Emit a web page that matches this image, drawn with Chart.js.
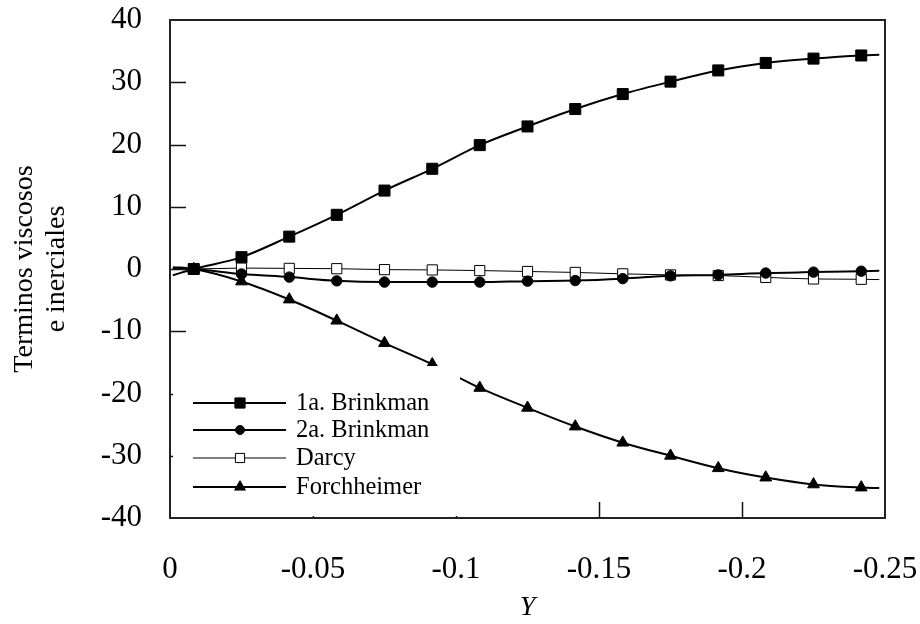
<!DOCTYPE html>
<html>
<head>
<meta charset="utf-8">
<script src="https://cdn.jsdelivr.net/npm/chart.js@4/dist/chart.umd.min.js"></script>
<style>
  html, body { margin: 0; padding: 0; background: #fff; }
  #wrap { width: 920px; height: 624px; }
</style>
</head>
<body>
<div id="wrap"><canvas id="myChart"></canvas></div>
<script>
// Y coordinate of each computed node (first and last are the curve ends)
var yPos = [-0.001, -0.0083, -0.025, -0.0417, -0.0583, -0.075, -0.0917, -0.1083,
            -0.125, -0.1417, -0.1583, -0.175, -0.1917, -0.2083, -0.225, -0.2417, -0.248];
// viscous and inertial terms
var brinkman1 = [-1.0, 0, 1.9, 5.2, 8.7, 12.6, 16.1, 19.9, 22.9, 25.7, 28.1, 30.1, 31.9, 33.1, 33.8, 34.3, 34.4];
var brinkman2 = [0.1, 0, -0.8, -1.3, -1.9, -2.1, -2.1, -2.1, -1.95, -1.85, -1.55, -1.1, -0.95, -0.65, -0.5, -0.35, -0.3];
var darcy = [0, 0, 0.15, 0.1, 0.05, -0.1, -0.15, -0.25, -0.4, -0.55, -0.78, -0.95, -1.05, -1.35, -1.6, -1.65, -1.7];
var forchheimer = [0.3, 0, -2.0, -4.9, -8.3, -11.9, -15.3, -19.1, -22.3, -25.3, -27.9, -30.0, -32.0, -33.5, -34.6, -35.1, -35.2];
var seriesNames = ["1a. Brinkman", "2a. Brinkman", "Darcy", "Forchheimer"];

var xTicks = [0, -0.05, -0.1, -0.15, -0.2, -0.25];
var yTicks = [40, 30, 20, 10, 0, -10, -20, -30, -40];

var serif = "'Liberation Serif', 'DejaVu Serif', serif";
Chart.defaults.color = '#000';
Chart.defaults.font.family = serif;

function pairs(vals) {
  return vals.map(function (v, i) { return { x: yPos[i], y: v }; });
}

// no marker on the two curve ends
function markerSize(r) {
  return function (ctx) {
    return (ctx.dataIndex === 0 || ctx.dataIndex === yPos.length - 1) ? 0 : r;
  };
}

function series(label, vals, style, r, width, fillCol) {
  return {
    label: label,
    data: pairs(vals),
    borderColor: '#000',
    borderWidth: width,
    backgroundColor: fillCol,
    pointStyle: style,
    pointRadius: markerSize(r),
    pointBorderColor: '#000',
    pointBackgroundColor: fillCol,
    pointBorderWidth: 1,
    cubicInterpolationMode: 'monotone',
    fill: false
  };
}

// box around the plot, inner tick marks and the legend in the lower-left corner
var framePlugin = {
  id: 'frame',
  afterDatasetsDraw: function (chart) {
    var ctx = chart.ctx, a = chart.chartArea;
    var xs = chart.scales.x, ys = chart.scales.y;
    ctx.save();
    ctx.strokeStyle = '#111';
    ctx.lineWidth = 1.5;
    ctx.beginPath();
    yTicks.slice(1, -1).forEach(function (v) {
      var py = Math.round(ys.getPixelForValue(v)) + 0.5;
      ctx.moveTo(a.left, py); ctx.lineTo(a.left + 16, py);
    });
    xTicks.slice(1, -1).forEach(function (v) {
      var px = Math.round(xs.getPixelForValue(v)) + 0.5;
      ctx.moveTo(px, a.bottom); ctx.lineTo(px, a.bottom - 16);
    });
    ctx.stroke();

    // legend
    var bx = a.left + 3, by = a.bottom - 152;
    ctx.fillStyle = '#fff';
    ctx.fillRect(bx, by, 287, 150);
    var rows = [a.bottom - 115, a.bottom - 88, a.bottom - 60, a.bottom - 31];
    ctx.font = '24.5px ' + serif;
    ctx.textBaseline = 'middle';
    ctx.textAlign = 'left';
    chart.data.datasets.forEach(function (ds, i) {
      var y = rows[i];
      ctx.strokeStyle = '#000';
      ctx.lineWidth = ds.borderWidth;
      ctx.beginPath();
      ctx.moveTo(a.left + 23, y); ctx.lineTo(a.left + 116, y);
      ctx.stroke();
      ctx.fillStyle = ds.pointBackgroundColor;
      ctx.strokeStyle = '#000';
      ctx.lineWidth = 1;
      Chart.helpers.drawPoint(ctx, {
        pointStyle: ds.pointStyle,
        radius: ds.legendRadius,
        rotation: 0,
        borderWidth: 1
      }, a.left + 70, y);
      ctx.fillStyle = '#000';
      ctx.fillText(ds.label, a.left + 126, y + 1);
    });

    ctx.strokeStyle = '#222';
    ctx.lineWidth = 2;
    ctx.strokeRect(a.left, a.top, a.width, a.height);
    ctx.restore();
  }
};

var sets = [
  series(seriesNames[0], brinkman1, 'rect', 7.8, 2, '#000'),
  series(seriesNames[1], brinkman2, 'circle', 5.2, 2, '#000'),
  series(seriesNames[2], darcy, 'rect', 7.2, 1, '#fff'),
  series(seriesNames[3], forchheimer, 'triangle', 6.8, 2, '#000')
];
sets[0].legendRadius = 7.2;
sets[1].legendRadius = 4.5;
sets[2].legendRadius = 6.5;
sets[3].legendRadius = 6.2;

var ctx = document.getElementById("myChart");
var myChart = new Chart(ctx, {
  type: 'line',
  data: { datasets: sets },
  plugins: [framePlugin],
  options: {
    responsive: true,
    maintainAspectRatio: false,
    animation: false,
    layout: { padding: { top: 20, right: 35, left: 0, bottom: 0 } },
    plugins: {
      legend: { display: false },
      tooltip: { enabled: false }
    },
    scales: {
      x: {
        type: 'linear',
        reverse: true,
        min: -0.25,
        max: 0,
        afterBuildTicks: function (s) {
          s.ticks = xTicks.map(function (v) { return { value: v }; });
        },
        afterFit: function (s) {
          s.height = 106;
          s.paddingLeft = 0; s.paddingRight = 0;
        },
        ticks: {
          padding: 33,
          font: { size: 31, family: serif },
          maxRotation: 0,
          callback: function (v) { return String(+v.toFixed(2)); }
        },
        grid: { display: false, drawTicks: false },
        border: { display: false },
        title: {
          display: true,
          text: 'Y',
          font: { size: 28, style: 'italic', family: serif, lineHeight: 1.2 },
          padding: { top: 0, bottom: 0 }
        }
      },
      y: {
        min: -40,
        max: 40,
        afterBuildTicks: function (s) {
          s.ticks = yTicks.map(function (v) { return { value: v }; });
        },
        afterFit: function (s) {
          s.width = 170;
          s.paddingTop = 0; s.paddingBottom = 0;
        },
        ticks: {
          padding: 28,
          font: { size: 31, family: serif }
        },
        grid: { display: false, drawTicks: false },
        border: { display: false },
        title: {
          display: true,
          text: ['Terminos viscosos', 'e inerciales'],
          font: { size: 28, family: serif, lineHeight: 1.14 },
          padding: { top: 9, bottom: 0 }
        }
      }
    }
  }
});
</script>
</body>
</html>
